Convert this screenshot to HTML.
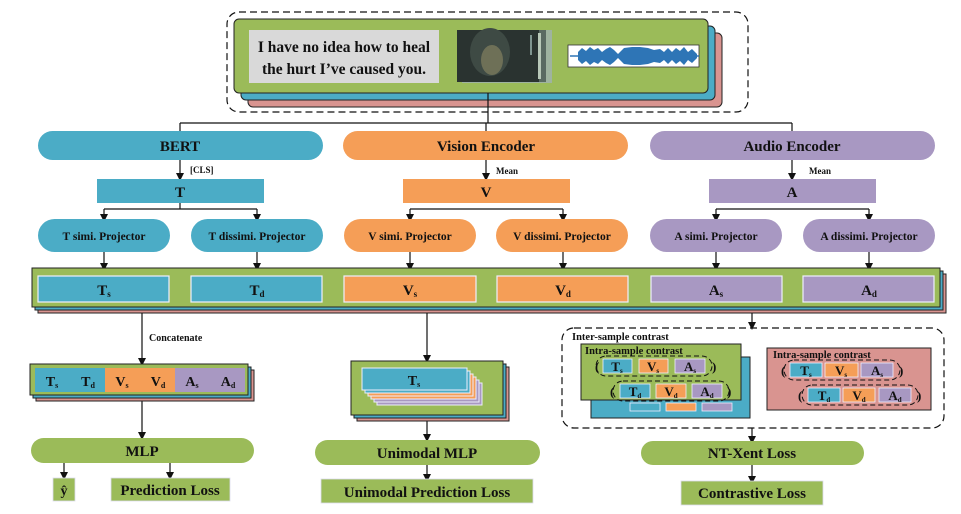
<!DOCTYPE html>
<html><head><meta charset="utf-8"><style>
html,body{margin:0;padding:0;background:#fff;}
svg{display:block;}
text{font-family:"Liberation Serif",serif;font-weight:bold;fill:#111;}
</style></head><body>
<svg width="961" height="514" viewBox="0 0 961 514" xmlns="http://www.w3.org/2000/svg">
<defs>
<marker id="ar" markerWidth="8" markerHeight="8" refX="4" refY="4" orient="auto" markerUnits="userSpaceOnUse">
<path d="M0,0 L8,4 L0,8 z" fill="#111"/></marker>
</defs>
<g stroke="#111" stroke-width="1.2" fill="none">
<rect x="227" y="12" width="521" height="100" rx="12" stroke-dasharray="7,4"/>
</g>
<rect x="248" y="33" width="474" height="74" rx="5" fill="#d99490" stroke="#222"/>
<rect x="241" y="26" width="474" height="74" rx="5" fill="#4bacc6" stroke="#222"/>
<rect x="234" y="19" width="474" height="74" rx="5" fill="#9bbb59" stroke="#222"/>
<rect x="249" y="30" width="190" height="53" fill="#d9d9d9"/>
<text x="344" y="52" font-size="15.5" text-anchor="middle">I have no idea how to heal</text>
<text x="344" y="74" font-size="15.5" text-anchor="middle">the hurt I’ve caused you.</text>
<rect x="462" y="30" width="90" height="53" fill="#9fb3a0"/>
<rect x="460" y="30" width="86" height="52" fill="#5a6a62"/>
<rect x="457" y="30" width="82" height="52" fill="#2a3330"/>
<ellipse cx="490" cy="52" rx="20" ry="24" fill="#3e4a44"/>
<ellipse cx="492" cy="60" rx="11" ry="15" fill="#6e7057"/>
<rect x="538" y="33" width="3" height="46" fill="#b8c8b8"/>
<rect x="530" y="35" width="2" height="20" fill="#7f9590"/>
<rect x="568" y="45" width="131" height="22" fill="#fff" stroke="#333" stroke-width="0.8"/>
<path d="M570,56 H699" stroke="#2e75b6" stroke-width="1.5"/>
<path d="M578,52 L582,48 L586,51 L590,47 L594,50 L598,48 L602,52 L606,49 L610,47 L614,50 L618,54 L624,48 L632,47 L640,47 L648,48 L654,50 L660,49 L664,52 L668,48 L672,52 L676,48 L680,51 L684,47 L688,52 L692,49 L697,54 L697,58 L692,63 L688,60 L684,65 L680,61 L676,64 L672,60 L668,64 L664,60 L660,63 L654,62 L648,64 L640,65 L632,65 L624,64 L618,58 L614,62 L610,65 L606,63 L602,60 L598,64 L594,62 L590,65 L586,61 L582,64 L578,60 z" fill="#2e75b6"/>

<g stroke="#111" stroke-width="1.2" fill="none">
<path d="M488,93 V123 M180,123 H792 M180,123 V131 M486,123 V131 M792,123 V131"/>
<path d="M180,160 V177" marker-end="url(#ar)"/>
<path d="M486,160 V177" marker-end="url(#ar)"/>
<path d="M792,160 V177" marker-end="url(#ar)"/>
<path d="M180,203 V209 M104,209 H257 M410,209 H563 M716,209 H869"/>
<path d="M104,209 V218" marker-end="url(#ar)"/><path d="M257,209 V218" marker-end="url(#ar)"/>
<path d="M410,209 V218" marker-end="url(#ar)"/><path d="M563,209 V218" marker-end="url(#ar)"/>
<path d="M716,209 V218" marker-end="url(#ar)"/><path d="M869,209 V218" marker-end="url(#ar)"/>
<path d="M104,252 V267" marker-end="url(#ar)"/><path d="M257,252 V267" marker-end="url(#ar)"/>
<path d="M410,252 V267" marker-end="url(#ar)"/><path d="M563,252 V267" marker-end="url(#ar)"/>
<path d="M716,252 V267" marker-end="url(#ar)"/><path d="M869,252 V267" marker-end="url(#ar)"/>
</g>
<rect x="38" y="131" width="285" height="29" rx="14.5" fill="#4bacc6"/>
<rect x="343" y="131" width="285" height="29" rx="14.5" fill="#f59e57"/>
<rect x="650" y="131" width="285" height="29" rx="14.5" fill="#a898c2"/>
<text x="180" y="151" font-size="15" text-anchor="middle">BERT</text>
<text x="486" y="151" font-size="15" text-anchor="middle">Vision Encoder</text>
<text x="792" y="151" font-size="15" text-anchor="middle">Audio Encoder</text>
<text x="190" y="173" font-size="9">[CLS]</text>
<text x="496" y="174" font-size="9">Mean</text>
<text x="809" y="174" font-size="9">Mean</text>
<rect x="97" y="179" width="167" height="24" fill="#4bacc6"/>
<rect x="403" y="179" width="167" height="24" fill="#f59e57"/>
<rect x="709" y="179" width="167" height="24" fill="#a898c2"/>
<text x="180" y="197" font-size="15" text-anchor="middle">T</text>
<text x="486" y="197" font-size="15" text-anchor="middle">V</text>
<text x="792" y="197" font-size="15" text-anchor="middle">A</text>
<g font-size="11.5">
<rect x="38" y="219" width="132" height="33" rx="16.5" fill="#4bacc6"/>
<rect x="191" y="219" width="132" height="33" rx="16.5" fill="#4bacc6"/>
<rect x="344" y="219" width="132" height="33" rx="16.5" fill="#f59e57"/>
<rect x="496" y="219" width="132" height="33" rx="16.5" fill="#f59e57"/>
<rect x="650" y="219" width="132" height="33" rx="16.5" fill="#a898c2"/>
<rect x="803" y="219" width="132" height="33" rx="16.5" fill="#a898c2"/>
<text x="104" y="240" text-anchor="middle">T simi. Projector</text>
<text x="257" y="240" text-anchor="middle">T dissimi. Projector</text>
<text x="410" y="240" text-anchor="middle">V simi. Projector</text>
<text x="562" y="240" text-anchor="middle">V dissimi. Projector</text>
<text x="716" y="240" text-anchor="middle">A simi. Projector</text>
<text x="869" y="240" text-anchor="middle">A dissimi. Projector</text>
</g>
<rect x="38" y="274" width="908" height="39" fill="#d99490" stroke="#222"/>
<rect x="35" y="271" width="908" height="39" fill="#4bacc6" stroke="#222"/>
<rect x="32" y="268" width="908" height="39" fill="#9bbb59" stroke="#222"/>
<g stroke="#eef" stroke-width="1.2">
<rect x="38" y="276" width="131" height="26" fill="#4bacc6"/>
<rect x="191" y="276" width="131" height="26" fill="#4bacc6"/>
<rect x="344" y="276" width="132" height="26" fill="#f59e57"/>
<rect x="497" y="276" width="131" height="26" fill="#f59e57"/>
<rect x="651" y="276" width="131" height="26" fill="#a898c2"/>
<rect x="803" y="276" width="131" height="26" fill="#a898c2"/>
</g>
<g font-size="15" text-anchor="middle">
<text x="104" y="295">T<tspan font-size="9" dy="2">s</tspan></text>
<text x="257" y="295">T<tspan font-size="9" dy="2">d</tspan></text>
<text x="410" y="295">V<tspan font-size="9" dy="2">s</tspan></text>
<text x="563" y="295">V<tspan font-size="9" dy="2">d</tspan></text>
<text x="716" y="295">A<tspan font-size="9" dy="2">s</tspan></text>
<text x="869" y="295">A<tspan font-size="9" dy="2">d</tspan></text>
</g>
<g stroke="#111" stroke-width="1.2" fill="none">
<path d="M142,313 V362" marker-end="url(#ar)"/>
<path d="M142,398 V436" marker-end="url(#ar)"/>
<path d="M64,462 V476" marker-end="url(#ar)"/>
<path d="M170,462 V476" marker-end="url(#ar)"/>
<path d="M427,313 V359" marker-end="url(#ar)"/>
<path d="M427,420 V438" marker-end="url(#ar)"/>
<path d="M427,465 V478" marker-end="url(#ar)"/>
<path d="M752,313 V326" marker-end="url(#ar)"/>
<path d="M752,428 V440" marker-end="url(#ar)"/>
<path d="M752,465 V480" marker-end="url(#ar)"/>
</g>
<text x="149" y="341" font-size="10">Concatenate</text>
<rect x="36" y="370" width="218" height="31" fill="#d99490" stroke="#222"/>
<rect x="33" y="367" width="218" height="31" fill="#4bacc6" stroke="#222"/>
<rect x="30" y="364" width="218" height="31" fill="#9bbb59" stroke="#222"/>
<rect x="35" y="368" width="70" height="24" fill="#4bacc6"/>
<rect x="105" y="368" width="70" height="24" fill="#f59e57"/>
<rect x="175" y="368" width="70" height="24" fill="#a898c2"/>
<g font-size="14" text-anchor="middle">
<text x="52" y="386">T<tspan font-size="8" dy="2">s</tspan></text>
<text x="88" y="386">T<tspan font-size="8" dy="2">d</tspan></text>
<text x="122" y="386">V<tspan font-size="8" dy="2">s</tspan></text>
<text x="158" y="386">V<tspan font-size="8" dy="2">d</tspan></text>
<text x="192" y="386">A<tspan font-size="8" dy="2">s</tspan></text>
<text x="228" y="386">A<tspan font-size="8" dy="2">d</tspan></text>
</g>
<rect x="31" y="438" width="223" height="25" rx="12.5" fill="#9bbb59"/>
<text x="142" y="456" font-size="15" text-anchor="middle">MLP</text>
<rect x="53" y="478" width="22" height="23" fill="#9bbb59" stroke="#dde" stroke-width="0.8"/>
<text x="64" y="495" font-size="14" text-anchor="middle">ŷ</text>
<rect x="111" y="478" width="119" height="23" fill="#9bbb59" stroke="#dde" stroke-width="0.8"/>
<text x="170" y="495" font-size="15" text-anchor="middle">Prediction Loss</text>
<rect x="357" y="367" width="152" height="54" fill="#d99490" stroke="#222"/>
<rect x="354" y="364" width="152" height="54" fill="#4bacc6" stroke="#222"/>
<rect x="351" y="361" width="152" height="54" fill="#9bbb59" stroke="#222"/>
<g stroke="#eef" stroke-width="1">
<rect x="377" y="383" width="105" height="22" fill="#a898c2"/>
<rect x="374" y="380" width="105" height="22" fill="#a898c2"/>
<rect x="371" y="377" width="105" height="22" fill="#f59e57"/>
<rect x="368" y="374" width="105" height="22" fill="#f59e57"/>
<rect x="365" y="371" width="105" height="22" fill="#4bacc6"/>
<rect x="362" y="368" width="105" height="22" fill="#4bacc6"/>
</g>
<text x="414" y="385" font-size="14" text-anchor="middle">T<tspan font-size="8" dy="2">s</tspan></text>
<rect x="315" y="440" width="225" height="25" rx="12.5" fill="#9bbb59"/>
<text x="427" y="458" font-size="15" text-anchor="middle">Unimodal MLP</text>
<rect x="321" y="479" width="212" height="24" fill="#9bbb59" stroke="#dde" stroke-width="0.8"/>
<text x="427" y="497" font-size="15" text-anchor="middle">Unimodal Prediction Loss</text>
<rect x="562" y="328" width="382" height="100" rx="12" fill="none" stroke="#111" stroke-width="1.2" stroke-dasharray="7,4"/>
<text x="572" y="340" font-size="10.5">Inter-sample contrast</text>
<rect x="591" y="357" width="159" height="61" fill="#4bacc6" stroke="#222"/>
<g stroke="#eef" stroke-width="0.8"><rect x="630" y="403" width="30" height="8" fill="#4bacc6"/><rect x="666" y="403" width="30" height="8" fill="#f59e57"/><rect x="702" y="403" width="30" height="8" fill="#a898c2"/></g>
<rect x="581" y="344" width="160" height="56" fill="#9bbb59" stroke="#222"/>
<text x="585" y="354" font-size="10.5">Intra-sample contrast</text>
<rect x="767" y="348" width="164" height="62" fill="#d99490" stroke="#222"/>
<text x="773" y="358" font-size="10.5">Intra-sample contrast</text>
<g stroke="#111" stroke-width="1" fill="none" stroke-dasharray="5,3">
<rect x="596" y="356" width="116" height="20" rx="10"/>
<rect x="613" y="381" width="116" height="20" rx="10"/>
<rect x="784" y="360" width="116" height="20" rx="10"/>
<rect x="802" y="385" width="116" height="20" rx="10"/>
</g>
<g stroke="#eef" stroke-width="0.8">
<rect x="603" y="359" width="29" height="14" fill="#4bacc6"/><rect x="639" y="359" width="29" height="14" fill="#f59e57"/><rect x="675" y="359" width="30" height="14" fill="#a898c2"/>
<rect x="620" y="384" width="30" height="14" fill="#4bacc6"/><rect x="656" y="384" width="30" height="14" fill="#f59e57"/><rect x="692" y="384" width="30" height="14" fill="#a898c2"/>
<rect x="790" y="363" width="32" height="14" fill="#4bacc6"/><rect x="825" y="363" width="33" height="14" fill="#f59e57"/><rect x="861" y="363" width="32" height="14" fill="#a898c2"/>
<rect x="808" y="388" width="32" height="14" fill="#4bacc6"/><rect x="843" y="388" width="32" height="14" fill="#f59e57"/><rect x="879" y="388" width="32" height="14" fill="#a898c2"/>
</g>
<g font-size="13" text-anchor="middle">
<text x="617" y="371">T<tspan font-size="7" dy="2">s</tspan></text><text x="653" y="371">V<tspan font-size="7" dy="2">s</tspan></text><text x="690" y="371">A<tspan font-size="7" dy="2">s</tspan></text>
<text x="635" y="396">T<tspan font-size="7" dy="2">d</tspan></text><text x="671" y="396">V<tspan font-size="7" dy="2">d</tspan></text><text x="707" y="396">A<tspan font-size="7" dy="2">d</tspan></text>
<text x="806" y="375">T<tspan font-size="7" dy="2">s</tspan></text><text x="841" y="375">V<tspan font-size="7" dy="2">s</tspan></text><text x="877" y="375">A<tspan font-size="7" dy="2">s</tspan></text>
<text x="824" y="400">T<tspan font-size="7" dy="2">d</tspan></text><text x="859" y="400">V<tspan font-size="7" dy="2">d</tspan></text><text x="895" y="400">A<tspan font-size="7" dy="2">d</tspan></text>
</g>
<g font-size="13">
<text x="595" y="371">(</text><text x="712" y="371">)</text>
<text x="610" y="396">(</text><text x="727" y="396">)</text>
<text x="781" y="375">(</text><text x="899" y="375">)</text>
<text x="798" y="400">(</text><text x="917" y="400">)</text>
</g>
<rect x="641" y="441" width="223" height="24" rx="12" fill="#9bbb59"/>
<text x="752" y="458" font-size="15" text-anchor="middle">NT-Xent Loss</text>
<rect x="681" y="481" width="142" height="24" fill="#9bbb59" stroke="#dde" stroke-width="0.8"/>
<text x="752" y="498" font-size="15" text-anchor="middle">Contrastive Loss</text>
</svg>
</body></html>
